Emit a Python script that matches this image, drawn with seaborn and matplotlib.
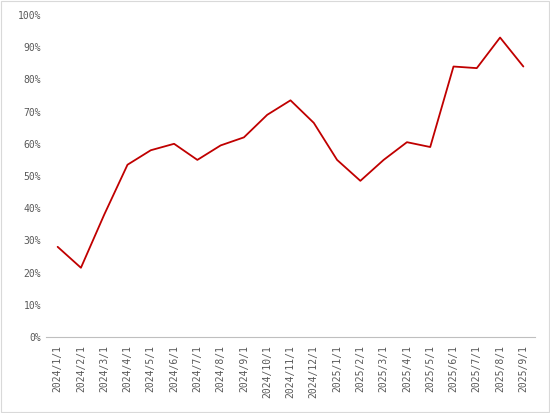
import matplotlib
matplotlib.use("Agg")
import matplotlib.pyplot as plt
import seaborn as sns
import pandas as pd
from matplotlib.ticker import FuncFormatter, FixedLocator
from matplotlib.patches import Rectangle

dates = [
    "2024/1/1", "2024/2/1", "2024/3/1", "2024/4/1", "2024/5/1", "2024/6/1",
    "2024/7/1", "2024/8/1", "2024/9/1", "2024/10/1", "2024/11/1", "2024/12/1",
    "2025/1/1", "2025/2/1", "2025/3/1", "2025/4/1", "2025/5/1", "2025/6/1",
    "2025/7/1", "2025/8/1", "2025/9/1",
]
values = [
    0.28, 0.215, 0.38, 0.535, 0.58, 0.60, 0.55, 0.595, 0.62, 0.69, 0.735,
    0.665, 0.55, 0.485, 0.55, 0.605, 0.59, 0.84, 0.835, 0.93, 0.84,
]

df = pd.DataFrame({"x": range(len(dates)), "value": values})

sns.set_style("white")
fig = plt.figure(figsize=(5.5, 4.13), dpi=100)
ax = fig.add_axes([46 / 550, 1 - 337 / 413, (535 - 46) / 550, (337 - 15) / 413])

sns.lineplot(data=df, x="x", y="value", ax=ax, color="#C00000", linewidth=1.3)

ax.set_xlim(-0.5, len(dates) - 0.5)
ax.set_ylim(0, 1.0)
ax.set_yticks([i / 10 for i in range(11)])
ax.yaxis.set_major_formatter(FuncFormatter(lambda v, _: f"{v * 100:.0f}%"))
ax.set_xticks(range(len(dates)))
ax.set_xticklabels(dates, rotation=90, fontsize=7, color="#595959", family="DejaVu Sans Mono")
ax.xaxis.set_minor_locator(FixedLocator([i - 0.5 for i in range(len(dates) + 1)]))
ax.tick_params(axis="x", which="major", length=0, pad=6)
ax.tick_params(axis="x", which="minor", length=4, width=0.8, color="#BFBFBF", direction="out")
ax.tick_params(axis="y", length=0, labelsize=7, labelcolor="#595959")
for lbl in ax.get_yticklabels():
    lbl.set_family("DejaVu Sans Mono")
ax.set_xlabel("")
ax.set_ylabel("")
for s in ["top", "right", "left"]:
    ax.spines[s].set_visible(False)
ax.spines["bottom"].set_color("#BFBFBF")

fig.patches.append(Rectangle((0.002, 0.002), 0.996, 0.996, transform=fig.transFigure,
                             fill=False, edgecolor="#D9D9D9", linewidth=0.8))

fig.savefig("out.png", dpi=100)
